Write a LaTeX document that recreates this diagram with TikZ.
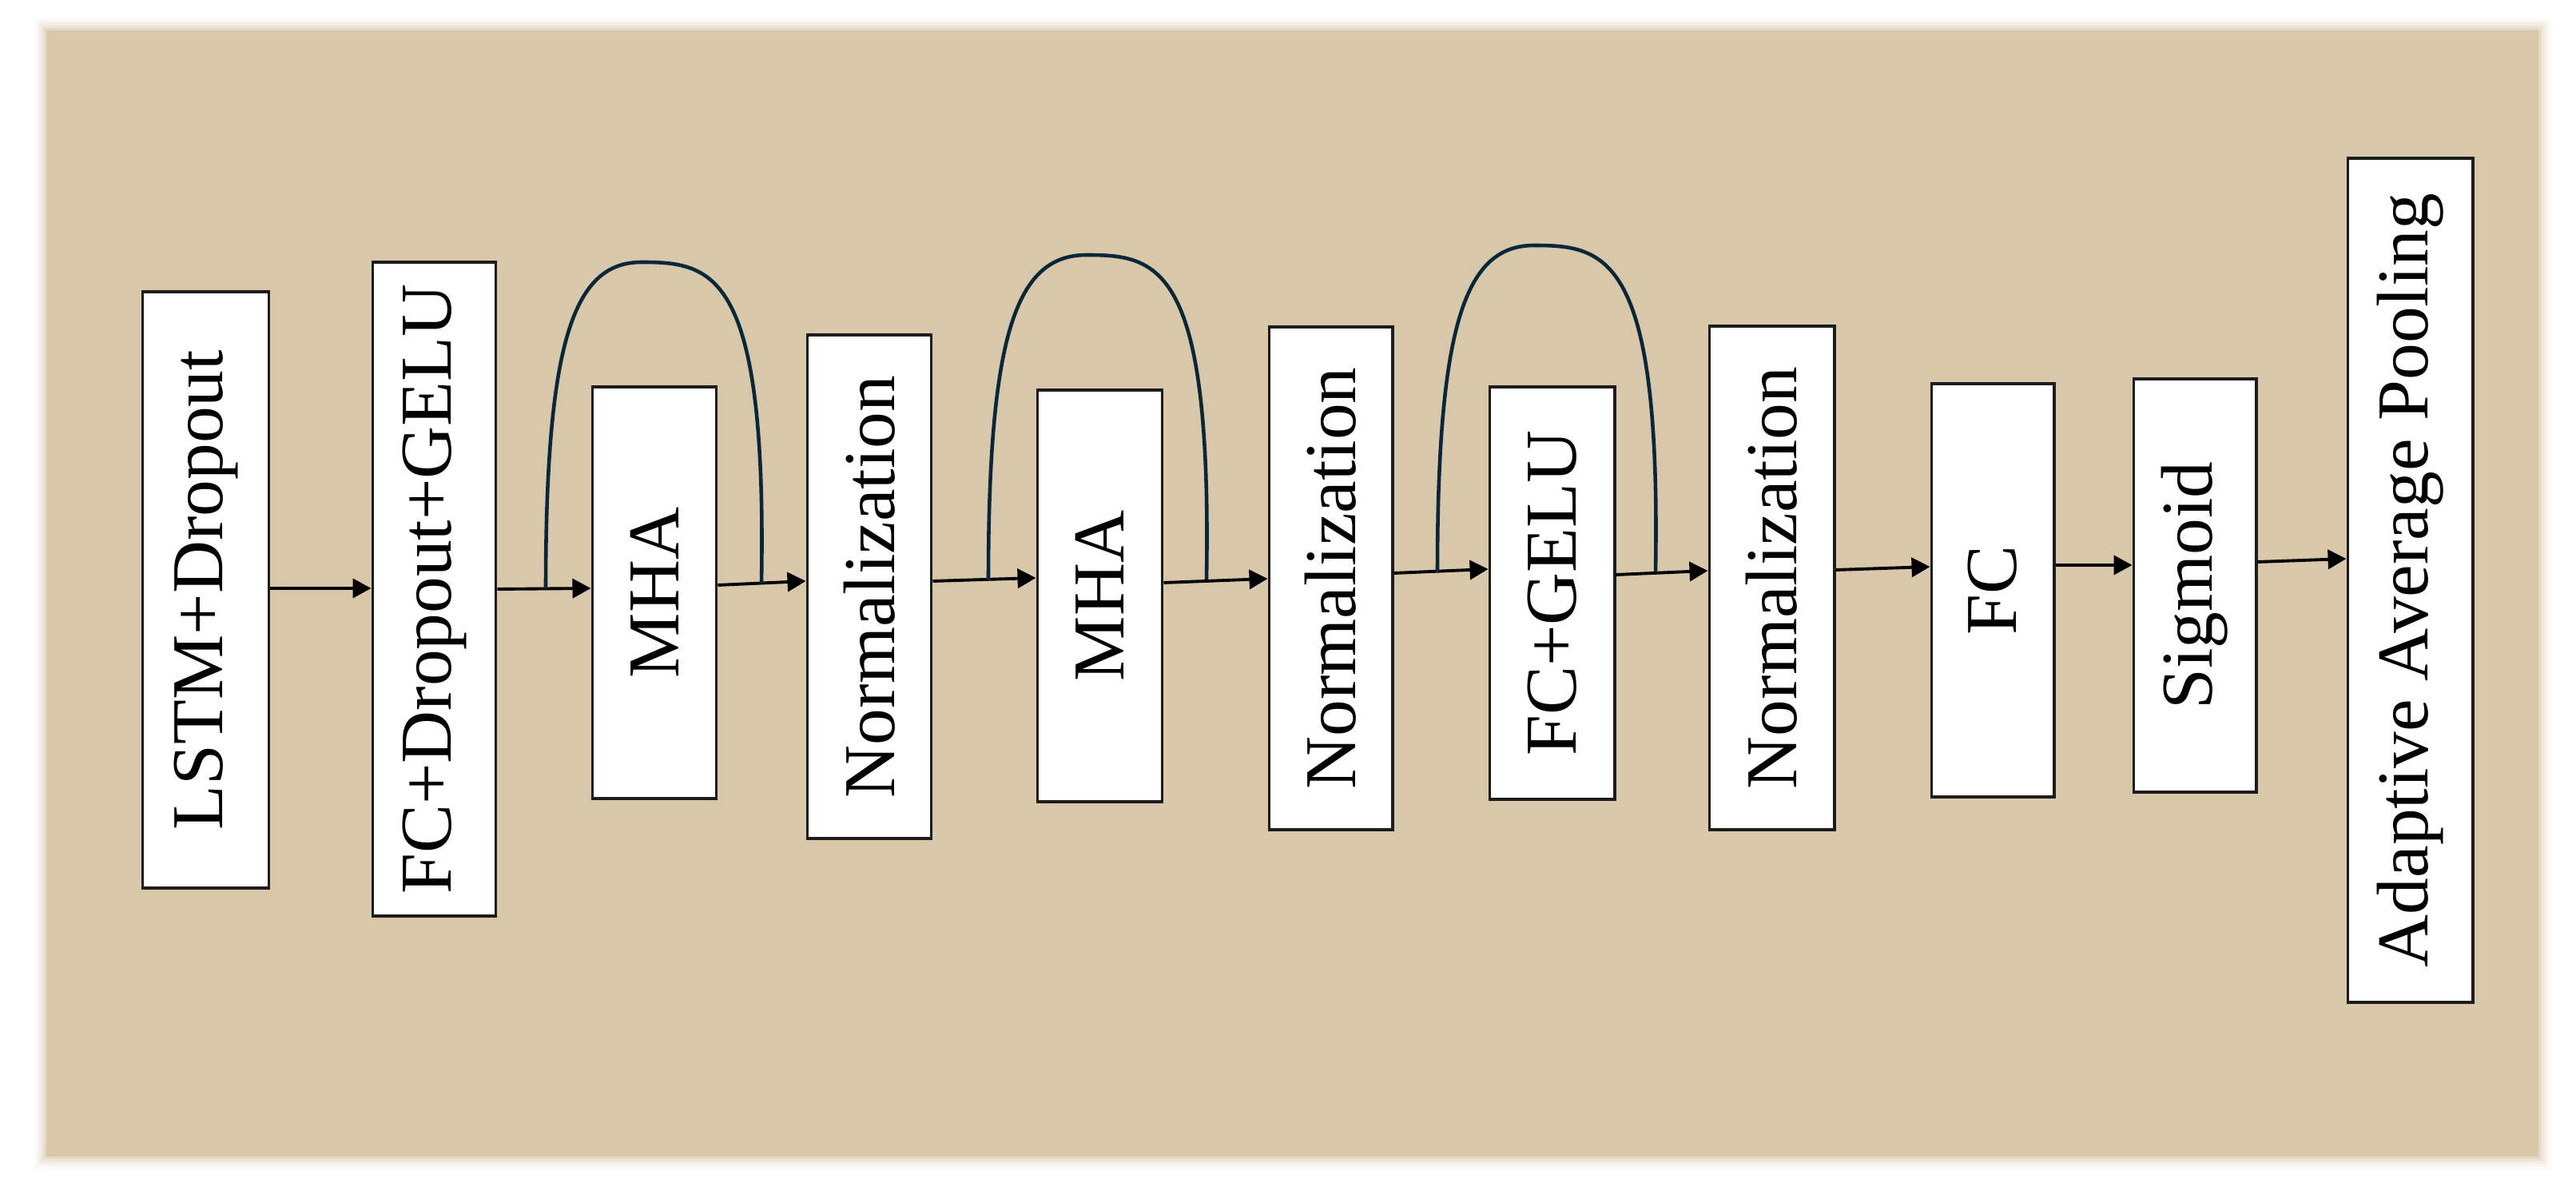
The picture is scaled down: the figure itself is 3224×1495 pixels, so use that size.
\documentclass[tikz,border=0pt]{standalone}
\usepackage{fontspec}
\setmainfont{Liberation Serif}
\usetikzlibrary{arrows.meta,calc}
\definecolor{bgtan}{RGB}{216,200,169}
\definecolor{resblue}{RGB}{8,40,58}
\definecolor{boxline}{RGB}{28,28,28}
\begin{document}
\begin{tikzpicture}[x=0.01cm,y=-0.01cm,
  blk/.style={draw=boxline, fill=white, line width=1.1pt, inner sep=0pt,
    font=\fontsize{26}{30}\selectfont},
  arr/.style={line width=1.1pt, black, -{Triangle[length=0.23cm,width=0.24cm]}},
  res/.style={line width=1.3pt, resblue}]
\useasboundingbox (0,0) rectangle (3224,1495);
\fill[white] (0,0) rectangle (3224,1495);
% soft edged background panel
\foreach \d/\o in {16/0.06,12/0.1,9/0.15,6/0.22,3/0.35}
  \fill[bgtan,opacity=\o] (58-\d,38-\d) rectangle (3177+\d,1447+\d);
\fill[bgtan] (58,38) rectangle (3177,1447);

% blocks
\node[blk, minimum width=1.58cm, minimum height=7.45cm] (lstm) at (257.5,738) {\rotatebox{90}{LSTM+Dropout}};
\node[blk, minimum width=1.54cm, minimum height=8.17cm] (fc1) at (543.5,737) {\rotatebox{90}{FC+Dropout+GELU}};
\node[blk, minimum width=1.55cm, minimum height=5.14cm] (mha1) at (819,741.5) {\rotatebox{90}{MHA}};
\node[blk, minimum width=1.55cm, minimum height=6.29cm] (norm1) at (1088,734) {\rotatebox{90}{Normalization}};
\node[blk, minimum width=1.56cm, minimum height=5.14cm] (mha2) at (1376.5,745.5) {\rotatebox{90}{MHA}};
\node[blk, minimum width=1.54cm, minimum height=6.28cm] (norm2) at (1665.5,723.5) {\rotatebox{90}{Normalization}};
\node[blk, minimum width=1.56cm, minimum height=5.15cm] (fcgelu) at (1942.5,742) {\rotatebox{90}{FC+GELU}};
\node[blk, minimum width=1.56cm, minimum height=6.29cm] (norm3) at (2217.5,723) {\rotatebox{90}{Normalization}};
\node[blk, minimum width=1.53cm, minimum height=5.16cm] (fc) at (2494,738.5) {\rotatebox{90}{FC}};
\node[blk, minimum width=1.53cm, minimum height=5.16cm] (sig) at (2747,732.5) {\rotatebox{90}{Sigmoid}};
\node[blk, minimum width=1.56cm, minimum height=10.55cm] (aap) at (3016.5,726) {\rotatebox{90}{Adaptive Average Pooling}};

% main flow arrows
\draw[arr] (lstm.east |- 0,736) -- (fc1.west |- 0,736);
\draw[arr] (fc1.east |- 0,737) -- (mha1.west |- 0,736);
\draw[arr] (mha1.east |- 0,732) -- (norm1.west |- 0,727);
\draw[arr] (norm1.east |- 0,727) -- (mha2.west |- 0,723);
\draw[arr] (mha2.east |- 0,729) -- (norm2.west |- 0,724);
\draw[arr] (norm2.east |- 0,717) -- (fcgelu.west |- 0,712);
\draw[arr] (fcgelu.east |- 0,719) -- (norm3.west |- 0,714);
\draw[arr] (norm3.east |- 0,713) -- (fc.west |- 0,709);
\draw[arr] (fc.east |- 0,707) -- (sig.west |- 0,707);
\draw[arr] (sig.east |- 0,703) -- (aap.west |- 0,699);

% residual connections
\coordinate (r1a) at (683,737);
\coordinate (r1t) at (803,328);
\coordinate (r1b) at (953,730);
\coordinate (r2a) at (1237,726);
\coordinate (r2t) at (1360,319);
\coordinate (r2b) at (1510,725);
\coordinate (r3a) at (1799,716);
\coordinate (r3t) at (1920,307);
\coordinate (r3b) at (2072,715);
\draw[res] (r1a) .. controls ($(r1a |- r1t)+(0,95)$) and ($(r1a |- r1t)+(36,0)$) .. (r1t)
  .. controls ($(r1t)+(90,0)$) and ($(r1b |- r1t)+(7,12)$) .. (r1b);
\draw[res] (r2a) .. controls ($(r2a |- r2t)+(0,95)$) and ($(r2a |- r2t)+(36,0)$) .. (r2t)
  .. controls ($(r2t)+(90,0)$) and ($(r2b |- r2t)+(7,12)$) .. (r2b);
\draw[res] (r3a) .. controls ($(r3a |- r3t)+(0,95)$) and ($(r3a |- r3t)+(36,0)$) .. (r3t)
  .. controls ($(r3t)+(90,0)$) and ($(r3b |- r3t)+(7,12)$) .. (r3b);
\end{tikzpicture}
\end{document}
